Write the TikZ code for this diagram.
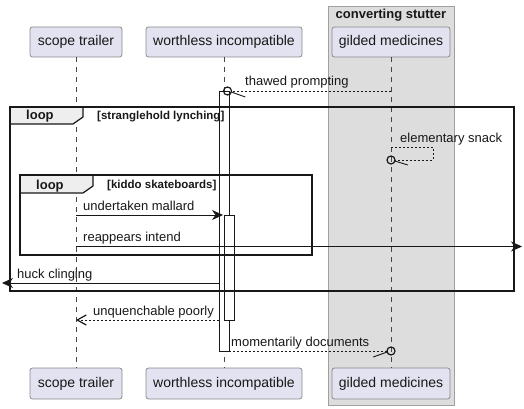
\documentclass[tikz,border=0pt]{standalone}
\usepackage{fontspec}
\setmainfont{Liberation Sans}
\usetikzlibrary{arrows.meta}
\definecolor{partfill}{HTML}{E2E2F0}
\definecolor{partdraw}{HTML}{8A8A8A}
\definecolor{boxfill}{HTML}{DDDDDD}
\definecolor{boxdraw}{HTML}{A0A0A0}
\definecolor{tabfill}{HTML}{EEEEEE}
\definecolor{ink}{HTML}{181818}
\tikzset{
  part/.style={draw=partdraw, fill=partfill, line width=0.8pt, rounded corners=2.5pt,
    minimum height=30pt, inner sep=0pt, font=\fontsize{14}{16}\selectfont, text=ink},
  lifeline/.style={draw=ink!80, line width=0.6pt, dash pattern=on 5pt off 5pt},
  actbar/.style={draw=ink, fill=white, line width=0.8pt},
  framebox/.style={draw=ink, line width=1.5pt},
  frametab/.style={draw=ink, fill=tabfill, line width=1.2pt},
  tablabel/.style={font=\bfseries\fontsize{13}{15}\selectfont, anchor=base west, inner sep=0pt, text=ink},
  guard/.style={font=\bfseries\fontsize{11.5}{13}\selectfont, anchor=base west, inner sep=0pt, text=ink},
  msglabel/.style={font=\fontsize{13}{15}\selectfont, anchor=base west, inner sep=0pt, text=ink},
  syncmsg/.style={draw=ink, line width=0.9pt, -{Stealth[length=11pt,width=10pt,inset=3.5pt]}},
  retmsg/.style={draw=ink, line width=0.9pt, dash pattern=on 2pt off 2pt},
  retarrow/.style={retmsg, -{Straight Barb[length=9pt,width=10pt,line width=1.2pt]}},
  circend/.style={draw=ink, line width=1.2pt, fill=none},
  halftip/.style={draw=ink, line width=0.9pt},
}
\begin{document}
\begin{tikzpicture}[x=1pt,y=-1pt]
\useasboundingbox (0,0) rectangle (524,409);

% group box
\path[draw=boxdraw, fill=boxfill, line width=0.8pt] (328,6) rectangle (454,405);
\node[font=\bfseries\fontsize{13}{15}\selectfont, text=ink] (grouptitle) at (391,15) {converting stutter};

% participants
\node[part, minimum width=92pt] (st) at (76,42) {scope trailer};
\node[part, minimum width=156pt] (wi) at (224,42) {worthless incompatible};
\node[part, minimum width=118pt] (gm) at (391,42) {gilded medicines};
\node[part, minimum width=92pt, minimum height=31pt] (stb) at (76,383.5) {scope trailer};
\node[part, minimum width=156pt, minimum height=31pt] (wib) at (224,383.5) {worthless incompatible};
\node[part, minimum width=118pt, minimum height=31pt] (gmb) at (391,383.5) {gilded medicines};

% lifelines
\draw[lifeline] (st.south) -- (stb.north);
\draw[lifeline] (wi.south) -- (wib.north);
\draw[lifeline] (gm.south) -- (gmb.north);

% activation bars
\draw[actbar] (219,91) rectangle (229,351);
\draw[actbar] (224,215) rectangle (234,320);

% coordinates
\coordinate (gA) at (391,91);
\coordinate (cA) at (227.5,91);
\coordinate (gB) at (391,147);
\coordinate (sB1) at (433,147);
\coordinate (sB2) at (433,160);
\coordinate (cB) at (391,160);
\coordinate (sC) at (76,215);
\coordinate (wC) at (223,215);
\coordinate (sD) at (76,246.5);
\coordinate (eD) at (522,246.5);
\coordinate (wE) at (219,283);
\coordinate (eE) at (2,283);
\coordinate (wF) at (219,320);
\coordinate (sF) at (76,320);
\coordinate (wG) at (229,351);
\coordinate (cG) at (391,351);

% outer loop frame
\draw[framebox] (10,107) rectangle (514,291);
\draw[frametab] (10,107) -- (83,107) -- (83,117) -- (73,124) -- (10,124) -- cycle;
\draw[framebox] (10,107) rectangle (514,291);
\node[tablabel] (l1) at (26,120) {loop};
\node[guard] (g1) at (97,119) {[stranglehold lynching]};

% inner loop frame
\draw[framebox] (20,175) rectangle (312,255);
\draw[frametab] (20,175) -- (93,175) -- (93,186) -- (83,193) -- (20,193) -- cycle;
\draw[framebox] (20,175) rectangle (312,255);
\node[tablabel] (l2) at (36,189) {loop};
\node[guard] (g2) at (107,188) {[kiddo skateboards]};

% message: thawed prompting
\draw[retmsg] (gA) -- ([xshift=4pt]cA);
\draw[circend] (cA) circle (4pt);
\draw[halftip] ([xshift=3.8pt,yshift=-1pt]cA) -- ++(14,5);
\node[msglabel] (m1) at (245,86) {thawed prompting};

% message: elementary snack (self)
\draw[retmsg] (gB) -- (sB1) -- (sB2) -- ([xshift=4pt]cB);
\draw[circend] (cB) circle (4pt);
\draw[halftip] ([xshift=3.8pt,yshift=-1pt]cB) -- ++(13,4);
\node[msglabel] (m2) at (400,142) {elementary snack};

% message: undertaken mallard
\draw[syncmsg] (sC) -- (wC);
\node[msglabel] (m3) at (83,210) {undertaken mallard};

% message: reappears intend
\draw[syncmsg] (sD) -- (eD);
\node[msglabel] (m4) at (83,241.5) {reappears intend};

% message: huck clinging
\draw[syncmsg] (wE) -- (eE);
\node[msglabel] (m5) at (17,278) {huck clinging};

% message: unquenchable poorly
\draw[retarrow] (wF) -- (sF);
\node[msglabel] (m6) at (93,315) {unquenchable poorly};

% message: momentarily documents
\draw[retmsg] (wG) -- ([xshift=-4pt]cG);
\draw[circend] (cG) circle (4pt);
\draw[halftip] ([xshift=-3.8pt,yshift=-1pt]cG) -- ++(-14,5);
\node[msglabel] (m7) at (231,346) {momentarily documents};
\end{tikzpicture}
\end{document}
